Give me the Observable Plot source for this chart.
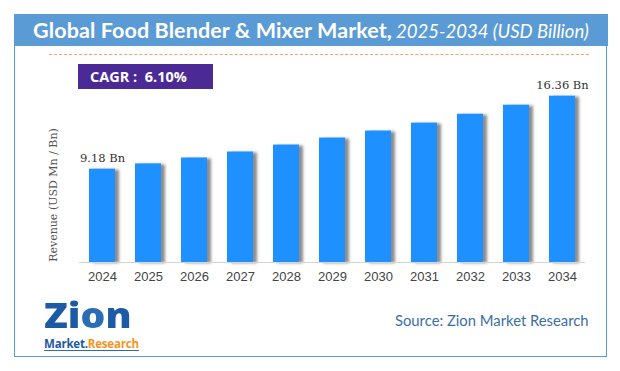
<!DOCTYPE html>
<html>
<head>
<meta charset="utf-8">
<script src="https://cdn.jsdelivr.net/npm/d3@7"></script>
<script src="https://cdn.jsdelivr.net/npm/@observablehq/plot@0.6"></script>
<style>
  html, body { margin: 0; padding: 0; background: #fff; }
  #wrap { position: relative; width: 620px; height: 371px; overflow: hidden; }
  #frame { position: absolute; left: 14px; top: 14px; width: 591px; height: 341px; border: 1.5px solid #5B9BD5; box-sizing: content-box; }
  #header { position: absolute; left: 14px; top: 14px; width: 594px; height: 32px; background: #5B9BD5; color: #fff;
            font-family: Lato, "Open Sans", sans-serif; text-align: center; line-height: 32px; white-space: nowrap; }
  #header b { font-size: 21.5px; font-weight: 700; letter-spacing: 0.1px; }
  #header i { font-size: 18.5px; font-weight: 400; }
  #dash { position: absolute; left: 49px; top: 54px; width: 540px; border-top: 1.5px dashed #F4A46A; }
  #cagr { position: absolute; left: 78px; top: 64px; width: 135px; height: 25px; background: #4B2A96; color: #fff;
          font-family: "Open Sans", Lato, sans-serif; font-weight: 700; font-size: 14.5px; line-height: 25px; padding-left: 12px; box-sizing: border-box; white-space: pre; }
  #ylab { position: absolute; left: 53px; top: 195px; transform: translate(-50%, -50%) rotate(-90deg); white-space: nowrap;
          font-family: "DejaVu Serif", serif; font-size: 11px; color: #555; }
  #source { position: absolute; left: 395px; top: 311px; font-family: Lato, "Open Sans", sans-serif; font-size: 14.8px; color: #3A6EA5; white-space: nowrap; }
  #logo { position: absolute; left: 44px; top: 297px; width: 92px; font-family: "Open Sans", Lato, sans-serif; }
  #logo .big { font-size: 39px; font-weight: 800; color: #1C5AA6; letter-spacing: 0px; line-height: 38px; height: 34px; transform: scaleY(0.9); transform-origin: top left; }
  #logo .big .o { color: #2A6DB5; }
  #logo .small { font-size: 11.5px; font-weight: 700; line-height: 12px; border-bottom: 1.5px solid #2A6DB5; display: inline-block; letter-spacing: -0.2px; }
  #logo .m { color: #1C5AA6; }
  #logo .r { color: #F7941D; }
  #chart { position: absolute; left: 0; top: 0; }
</style>
</head>
<body>
<div id="wrap">
  <div id="chart"></div>
  <div id="frame"></div>
  <div id="header"><b>Global Food Blender &amp; Mixer Market,</b> <i>2025-2034 (USD Billion)</i></div>
  <div id="dash"></div>
  <div id="cagr">CAGR :  6.10%</div>
  <div id="ylab">Revenue (USD Mn / Bn)</div>
  <div id="logo"><div class="big">Zi<span class="o">o</span>n</div><div class="small"><span class="m">Market.</span><span class="r">Research</span></div></div>
  <div id="source">Source: Zion Market Research</div>
</div>
<script>
const years = ["2024","2025","2026","2027","2028","2029","2030","2031","2032","2033","2034"];
const revenue = [9.18, 9.70, 10.28, 10.87, 11.55, 12.24, 12.93, 13.71, 14.58, 15.47, 16.36];
const valueLabels = ["9.18 Bn", "", "", "", "", "", "", "", "", "", "16.36 Bn"];

const data = years.map((y, i) => ({year: y, value: revenue[i], label: valueLabels[i]}));

const chart = Plot.plot({
  width: 620,
  height: 371,
  marginLeft: 79,
  marginRight: 35,
  marginTop: 79,
  marginBottom: 109,
  style: {background: "transparent", overflow: "visible"},
  x: {domain: years, paddingInner: 0.435, paddingOuter: 0.2175, label: null, tickSize: 0, tickPadding: 9},
  y: {domain: [0, 18], axis: null},
  marks: [
    Plot.barY(data, {x: "year", y: "value", fill: "#1E90FF"}),
    Plot.ruleY([0], {stroke: "#d4d4d4", strokeWidth: 1.2}),
    Plot.text(data.filter(d => d.label), {x: "year", y: "value", text: "label", lineAnchor: "bottom", dy: -7,
      fontFamily: "DejaVu Serif, serif", fontSize: 11.5, fill: "#333"})
  ]
});
chart.querySelectorAll('g[aria-label="x-axis tick label"] text, g[aria-label="x-axis tick label"]').forEach(el => {
  el.setAttribute("font-family", "Liberation Sans, Arial, sans-serif");
  el.setAttribute("font-size", "13");
  el.setAttribute("fill", "#444");
});
const bars = chart.querySelector('g[aria-label="bar"]');
if (bars) bars.style.filter = "drop-shadow(4px 1px 1.5px rgba(0,0,0,0.45))";
document.getElementById("chart").appendChild(chart);
</script>
</body>
</html>
